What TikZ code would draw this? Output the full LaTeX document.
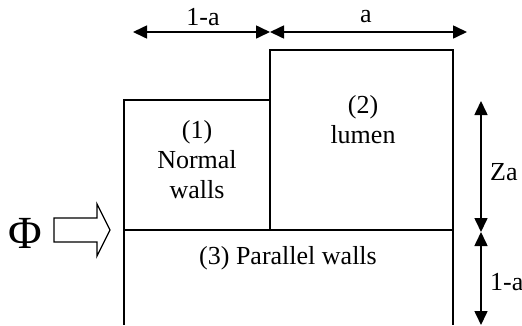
\documentclass[tikz,border=0pt]{standalone}
\usepackage{fontspec}
\setmainfont{Liberation Serif}
\usetikzlibrary{arrows.meta}
\begin{document}
\begin{tikzpicture}[x=1pt,y=-1pt,
  wall/.style={line width=1.6pt},
  dim/.style={line width=1.6pt,{Triangle[length=14pt,width=13pt]}-{Triangle[length=14pt,width=13pt]}},
  lbl/.style={font=\fontsize{26}{30}\selectfont,inner sep=0pt,align=center}]
\useasboundingbox (0,0) rectangle (522,325);
% boxes
\coordinate (b1nw) at (124,100);
\coordinate (b1se) at (270,230);
\coordinate (b2nw) at (270,50);
\coordinate (b2se) at (453,230);
\coordinate (b3sw) at (124,325);
\coordinate (b3se) at (453,325);
\draw[wall] (b1nw) rectangle (b1se);
\draw[wall] (b2nw) rectangle (b2se);
\draw[wall] (b1nw |- b1se) -- (b3sw);
\draw[wall] (b2se) -- (b3se);
% texts
\node[lbl] (t1) at (197,160) {(1)\\Normal\\walls};
\node[lbl] (t2) at (363,120) {(2)\\lumen};
\node[lbl] (t3) at (288,258) {(3) Parallel walls};
% top dimensions
\coordinate (h1) at (133,32);
\coordinate (h2) at (270,32);
\coordinate (h3) at (467,32);
\draw[dim] (h1) -- (h2);
\draw[dim] (h2) -- (h3);
\node[lbl] (l1) at (203,17) {1-a};
\node[lbl] (l2) at (366,17) {a};
% right dimensions
\coordinate (v1) at (481,101);
\coordinate (v2) at (481,232);
\coordinate (v3) at (481,325);
\draw[dim] (v1) -- (v2);
\draw[dim] (v2) -- (v3);
\node[lbl,anchor=west] (l3) at (490,172) {Za};
\node[lbl,anchor=west] (l4) at (490,282) {1-a};
% flux
\node[inner sep=0pt,font=\fontsize{46}{46}\selectfont] (phi) at (25,233) {Φ};
\draw[line width=1.3pt,line join=miter] (54,218) -- (97,218) -- (97,204) -- (110,230) -- (97,256) -- (97,242) -- (54,242) -- cycle;
\end{tikzpicture}
\end{document}
